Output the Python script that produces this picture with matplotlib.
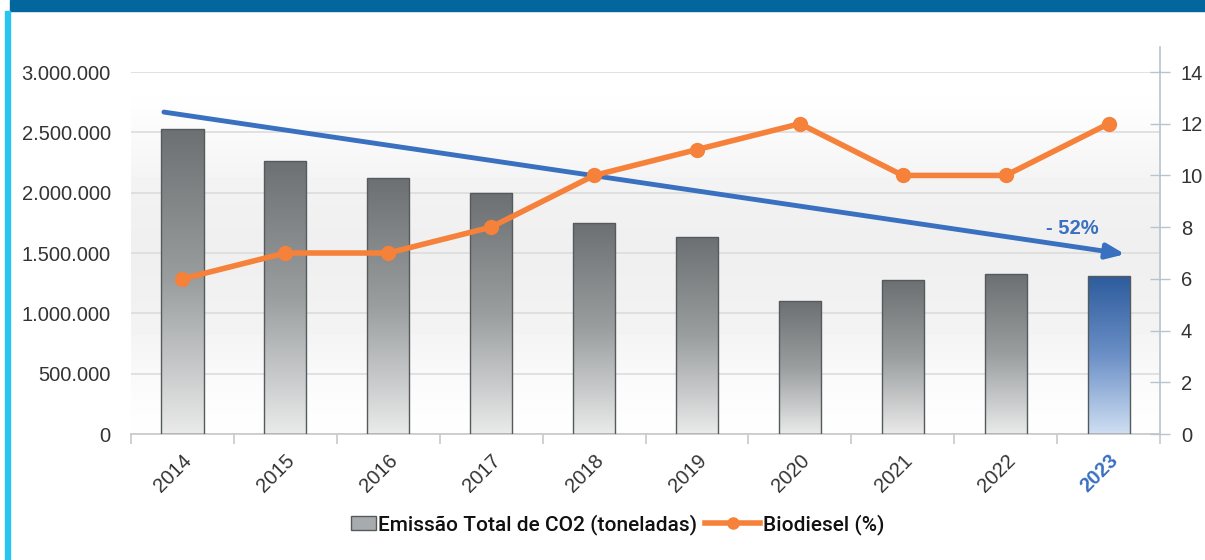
import numpy as np
import matplotlib.pyplot as plt
from matplotlib.patches import Rectangle
from matplotlib.lines import Line2D
from matplotlib.ticker import FuncFormatter
from matplotlib.colors import LinearSegmentedColormap
from matplotlib.legend_handler import HandlerPatch

plt.rcParams['font.family'] = ['Liberation Sans', 'DejaVu Sans']

# dados
anos = ['2014', '2015', '2016', '2017', '2018', '2019', '2020', '2021', '2022', '2023']
emissao = [2530000, 2265000, 2120000, 1995000, 1745000, 1630000, 1100000, 1275000, 1325000, 1310000]
biodiesel = [6, 7, 7, 8, 10, 11, 12, 10, 10, 12]
tendencia_y = [2668000, 1490000]   # inicio / fim da seta
tendencia_x = [-0.18, 9.16]
reducao = '- 52%'

azul = '#3a70c0'
laranja = '#f5813a'
texto = '#333333'

fig = plt.figure(figsize=(12.05, 5.6), dpi=100)

# moldura
fig.patches.append(Rectangle((0.0083, 0.9804), 0.9917, 0.0196, transform=fig.transFigure,
                             color='#03669c', zorder=0))
fig.patches.append(Rectangle((0.0041, 0), 0.0042, 0.9804, transform=fig.transFigure,
                             color='#29c4f2', zorder=0))

ax = fig.add_axes([0.1087, 0.225, 0.8540, 0.6464])
x = np.arange(len(anos))

# fundo em degradê
fundo = np.array([1.0, 0.985, 0.965, 0.945, 0.94, 0.94, 0.945, 0.96, 0.98, 0.995])[:, None]
ax.imshow(fundo, cmap='gray', vmin=0, vmax=1, aspect='auto',
          extent=[-0.5, 9.5, 0, 3000000], zorder=0, interpolation='bicubic')
ax.set_facecolor('white')

barras = ax.bar(x, emissao, width=0.41, color='none', edgecolor='#555a5c', linewidth=1.0, zorder=3)

grad = np.linspace(0, 1, 256)[:, None]
cmap_cinza = LinearSegmentedColormap.from_list('c', ['#6c7072', '#9a9e9f', '#eaeaea'])
cmap_azul = LinearSegmentedColormap.from_list('a', ['#2c5b9c', '#6b8fc6', '#cfdff3'])
for i, b in enumerate(barras):
    x0, y0 = b.get_x(), b.get_y()
    w, h = b.get_width(), b.get_height()
    cm = cmap_azul if anos[i] == '2023' else cmap_cinza
    im = ax.imshow(grad, cmap=cm, aspect='auto', extent=[x0, x0 + w, y0, y0 + h], zorder=2)
    im.set_clip_path(b)

ax.set_xlim(-0.5, 9.5)
ax.set_ylim(0, 3000000)
ax.set_yticks(np.arange(0, 3000001, 500000))
ax.yaxis.set_major_formatter(FuncFormatter(lambda v, p: f'{int(v):,}'.replace(',', '.')))
ax.grid(axis='y', color='#dcdcdc', linewidth=1.2, zorder=1)
ax.set_axisbelow(True)
for s in ['left', 'right', 'top']:
    ax.spines[s].set_visible(False)
ax.spines['bottom'].set_color('#c8c8c8')
ax.spines['bottom'].set_linewidth(1.2)
ax.tick_params(axis='y', length=0, pad=14.5, labelsize=14.5, labelcolor=texto)

ax.set_xticks(x)
ax.set_xticklabels(anos, rotation=45, ha='right', rotation_mode='anchor', fontsize=14.5, color=texto)
ax.set_xticks(np.arange(-0.5, 10, 1), minor=True)
ax.tick_params(axis='x', which='major', length=0, pad=12)
ax.tick_params(axis='x', which='minor', length=7, color='#c8c8c8', width=1.2)
ultimo = ax.get_xticklabels()[-1]
ultimo.set_color(azul)
ultimo.set_fontweight('bold')

# eixo secundário
ax2 = ax.twinx()
ax2.set_ylim(0, 14)
ax2.set_yticks(np.arange(0, 15, 2))
for s in ['left', 'top', 'bottom']:
    ax2.spines[s].set_visible(False)
ax2.spines['right'].set_color('#b8c4cc')
ax2.spines['right'].set_linewidth(1.2)
ax2.add_line(Line2D([1, 1], [1, 1.07], transform=ax2.transAxes, color='#b8c4cc',
                    linewidth=1.2, clip_on=False))
ax2.tick_params(axis='y', direction='inout', length=14, color='#b8c4cc', width=1.0,
                pad=8, labelsize=14.5, labelcolor=texto)

ax2.annotate('', xy=(tendencia_x[1], tendencia_y[1] * 14 / 3000000),
             xytext=(tendencia_x[0], tendencia_y[0] * 14 / 3000000),
             arrowprops=dict(arrowstyle='-|>,head_length=1.1,head_width=0.45', color=azul,
                             lw=3.5, shrinkA=0, shrinkB=0), zorder=4)
ax2.text(8.65, 7.95, reducao, color=azul, fontsize=14.5, fontweight='bold', ha='center', va='center')

linha, = ax2.plot(x, biodiesel, color=laranja, linewidth=4, marker='o', markersize=10, zorder=5)


# legenda: quadradinho pequeno encostado no texto
def quadrado(legend, orig_handle, xdescent, ydescent, width, height, fontsize):
    lado = 18
    alt = 10
    return Rectangle((width - lado - xdescent, -ydescent + (height - alt) / 2), lado, alt)


h_barra = Rectangle((0, 0), 1, 1, facecolor='#a8abad', edgecolor='#555a5c')
h_linha = Line2D([], [], color=laranja, linewidth=4, marker='o', markersize=8)
leg = fig.legend([h_barra, h_linha], ['Emissão Total de CO2 (toneladas)', 'Biodiesel (%)'],
                 loc='center', bbox_to_anchor=(0.5, 0.063), ncol=2, frameon=False,
                 prop={'family': 'Roboto', 'weight': 'medium', 'size': 15},
                 handlelength=2.64, handletextpad=0.1, columnspacing=0.4,
                 handler_map={Rectangle: HandlerPatch(patch_func=quadrado)})
for t in leg.get_texts():
    t.set_color('#111111')

fig.savefig('out.png', dpi=100)
